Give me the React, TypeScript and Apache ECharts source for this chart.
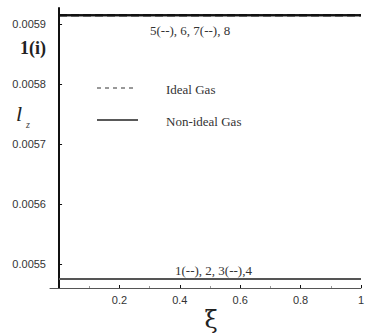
import React, { useEffect, useRef } from "react";
import * as echarts from "echarts";

const xValues = [0, 0.2, 0.4, 0.6, 0.8, 1];
const upperIdeal = [0.005915, 0.005915, 0.005915, 0.005915, 0.005915, 0.005915];
const upperNonIdeal = [0.005915, 0.005915, 0.005915, 0.005915, 0.005915, 0.005915];
const lowerIdeal = [0.005475, 0.005475, 0.005475, 0.005475, 0.005475, 0.005475];
const lowerNonIdeal = [0.005475, 0.005475, 0.005475, 0.005475, 0.005475, 0.005475];
const yTicks = [0.0055, 0.0056, 0.0057, 0.0058, 0.0059];
const xTicks = [0.2, 0.4, 0.6, 0.8, 1];
const xMinorTicks = [0.1, 0.3, 0.5, 0.7, 0.9];

const serif = "Liberation Serif";
const sans = "Liberation Sans";

const pair = (v: number[]) => xValues.map((x, i) => [x, v[i]]);

export default function App() {
  const ref = useRef<HTMLDivElement>(null);
  useEffect(() => {
    const chart = echarts.init(ref.current!, null, { renderer: "svg" });
    const mk = (name: string, data: number[], dashed: boolean, color: string) => ({
      type: "line",
      name,
      data: pair(data),
      showSymbol: false,
      symbol: "none",
      lineStyle: { color, width: 2, type: dashed ? "dashed" : "solid" },
      z: dashed ? 2 : 3,
      silent: true,
    });
    chart.setOption({
      animation: false,
      grid: { left: 50, right: 5, top: 8, bottom: 45 },
      xAxis: [
        {
          type: "value",
          min: -0.03,
          max: 1,
          axisLine: { onZero: false, lineStyle: { color: "#555", width: 1 } },
          axisTick: { inside: true, length: 3, customValues: xTicks, lineStyle: { color: "#111" } },
          axisLabel: {
            customValues: xTicks,
            margin: 6,
            fontSize: 11,
            fontFamily: sans,
            color: "#333",
            formatter: (v: number) => String(Math.round(v * 10) / 10),
          },
          splitLine: { show: false },
        },
        {
          type: "value",
          min: -0.03,
          max: 1,
          position: "bottom",
          axisLine: { show: false },
          axisTick: { inside: true, length: 2, customValues: xMinorTicks, lineStyle: { color: "#999" } },
          axisLabel: { show: false },
          splitLine: { show: false },
        },
      ],
      yAxis: {
        type: "value",
        min: 0.00546,
        max: 0.005927,
        axisLine: { show: true, onZero: true, lineStyle: { color: "#111", width: 2 } },
        axisTick: { inside: true, length: 3, customValues: yTicks, lineStyle: { color: "#111" } },
        axisLabel: {
          customValues: yTicks,
          margin: 4,
          fontSize: 11,
          fontFamily: sans,
          color: "#333",
          formatter: (v: number) => v.toFixed(4),
        },
        splitLine: { show: false },
      },
      series: [
        mk("1", lowerIdeal, true, "#555"),
        mk("2", lowerNonIdeal, false, "#555"),
        mk("3", lowerIdeal, true, "#555"),
        mk("4", lowerNonIdeal, false, "#555"),
        mk("5", upperIdeal, true, "#111"),
        mk("6", upperNonIdeal, false, "#111"),
        mk("7", upperIdeal, true, "#111"),
        mk("8", upperNonIdeal, false, "#111"),
      ],
      graphic: [
        {
          type: "line",
          shape: { x1: 97, y1: 88, x2: 137, y2: 88 },
          style: { stroke: "#333", lineWidth: 1, lineDash: [4, 4] },
        },
        {
          type: "line",
          shape: { x1: 97, y1: 120, x2: 138, y2: 120 },
          style: { stroke: "#222", lineWidth: 1.5 },
        },
        {
          type: "text",
          x: 166,
          y: 89,
          style: { text: "Ideal Gas", fontSize: 13, fontFamily: serif, fill: "#333", verticalAlign: "middle" },
        },
        {
          type: "text",
          x: 166,
          y: 121,
          style: { text: "Non-ideal Gas", fontSize: 13, fontFamily: serif, fill: "#333", verticalAlign: "middle" },
        },
        {
          type: "text",
          x: 150,
          y: 30,
          style: { text: "5(--), 6, 7(--), 8", fontSize: 13, fontFamily: serif, fill: "#333", verticalAlign: "middle" },
        },
        {
          type: "text",
          x: 175,
          y: 270,
          style: { text: "1(--), 2, 3(--),4", fontSize: 13, fontFamily: serif, fill: "#333", verticalAlign: "middle" },
        },
        {
          type: "text",
          x: 20,
          y: 48,
          style: { text: "1(i)", fontSize: 18, fontWeight: "bold", fontFamily: serif, fill: "#222", verticalAlign: "middle" },
        },
        {
          type: "text",
          x: 16,
          y: 113,
          style: { text: "l", fontSize: 22, fontStyle: "italic", fontFamily: serif, fill: "#222", verticalAlign: "middle" },
        },
        {
          type: "text",
          x: 26,
          y: 124,
          style: { text: "z", fontSize: 10, fontStyle: "italic", fontFamily: serif, fill: "#444", verticalAlign: "middle" },
        },
        {
          type: "text",
          x: 211,
          y: 320,
          style: { text: "ξ", fontSize: 24, fontFamily: "DejaVu Serif", fill: "#222", align: "center", verticalAlign: "middle" },
        },
      ],
    });
    return () => chart.dispose();
  }, []);
  return <div ref={ref} style={{ width: 367, height: 333, position: "absolute", left: 0, top: 0 }} />;
}
